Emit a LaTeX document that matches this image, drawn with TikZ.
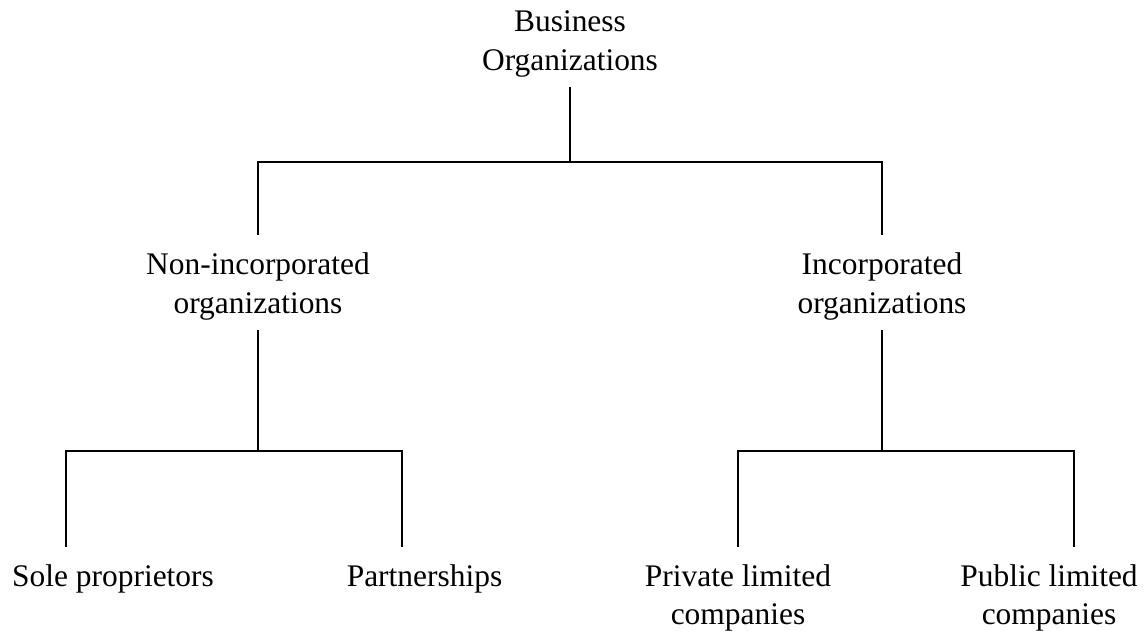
\documentclass[tikz,border=0pt]{standalone}
\usepackage{fontspec}
\setmainfont{Liberation Serif}
\usepackage{tikz}
\usetikzlibrary{calc}

\tikzset{
    org/.style={align=center, inner xsep=0pt, inner ysep=0.2cm,
        font=\fontsize{17.9}{21.9}\selectfont},
    link/.style={line width=1.1pt, shorten <=0.15cm, shorten >=0.15cm}
}

\begin{document}
\begin{tikzpicture}[x=0.02cm, y=-0.02cm]
                \useasboundingbox (0,0) rectangle (1146,630);
                % Top
                \node[org] (root) at (570,43.9) {Business\\Organizations};
                % Second level
                \node[org] (noninc) at (258,286.4) {Non-incorporated\\organizations};
                \node[org] (inc) at (882,286.4) {Incorporated\\organizations};
                % Third level
                \node[org] (sole) at (113,578.6) {Sole proprietors};
                \node[org] (part) at (424.5,578.6) {Partnerships};
                \node[org] (priv) at (738,597.9) {Private limited\\companies};
                \node[org] (pub) at (1049,597.9) {Public limited\\companies};
                % Bars
                \coordinate (topbar) at (570,162);
                \coordinate (leftbar) at (258,451);
                \coordinate (rightbar) at (882,451);
                \coordinate (bl) at (66,451);
                \coordinate (br) at (402,451);
                \coordinate (cl) at (738,451);
                \coordinate (cr) at (1074,451);
                \draw[line width=1.1pt] (root.south) -- (topbar);
                \draw[link] (noninc.north) |- (topbar) -| (inc.north);
                \draw[line width=1.1pt] (noninc.south) -- (leftbar);
                \draw[line width=1.1pt] (inc.south) -- (rightbar);
                \draw[link] (bl |- sole.north) -- (bl) -- (br) -- (br |- part.north);
                \draw[link] (cl |- priv.north) -- (cl) -- (cr) -- (cr |- pub.north);
            \end{tikzpicture}
\end{document}
